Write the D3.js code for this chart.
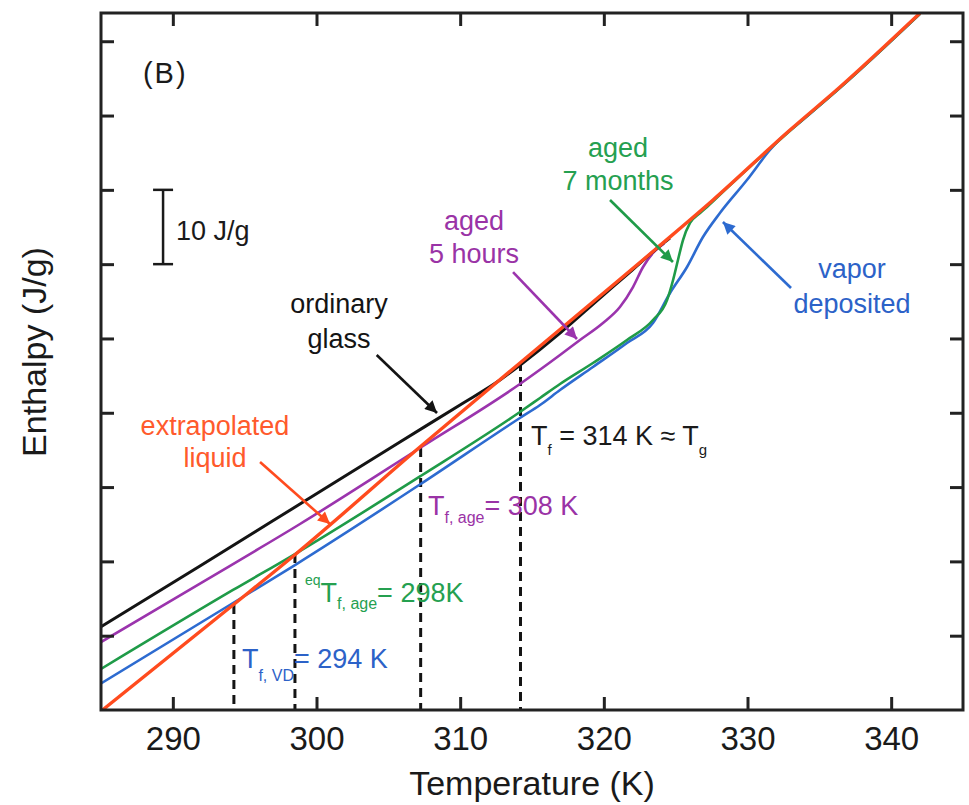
<!DOCTYPE html>
<html>
<head>
<meta charset="UTF-8">
<title>enthalpy vs temperature</title>
<script src="https://d3js.org/d3.v7.min.js"></script>
<style>
  body { margin: 0; background: #fff; }
  text { font-family: "Liberation Sans", Arial, Helvetica, sans-serif; }
</style>
</head>
<body>
<svg class="chart"></svg>
<script>

var width = 969, height = 805;
var margin = {top: 13, right: 6, bottom: 95, left: 101};

// axis ticks
var xTicks = [290, 300, 310, 320, 330, 340];
var yTicks = [10, 20, 30, 40, 50, 60, 70, 80, 90];

// curves: [temperature K, enthalpy J/g (arbitrary zero)]
var liquid = [[285.1, 0], [294.19, 14.13], [298.5, 20.9], [307.2, 35.39], [314.16, 46.7],
              [323.7, 62.17], [327.6, 68.63], [332.96, 78.05], [336.44, 83.84], [342.01, 93.8]];

var ordinary = [[285.0, 11.2], [291.89, 19.38], [298.85, 27.72], [305.81, 36.07], [309.99, 41.05],
                [312.77, 44.4], [314.16, 46.4], [316.95, 50.73], [319.73, 55.44], [321.82, 58.94],
                [323.56, 61.9], [324.6, 63.5]];

var aged5h = [[285.0, 9.15], [291.89, 17.02], [298.85, 25.03], [307.2, 35.26], [314.16, 43.87],
              [316.95, 47.77], [318.34, 49.79], [319.94, 52.08], [321.12, 54.23], [322.03, 56.92],
              [322.73, 59.62], [323.42, 61.5], [324.2, 62.8]];

var aged7mo = [[285.0, 5.52], [294.19, 16.15], [298.5, 20.99], [307.25, 31.49], [314.16, 40.1],
               [315.56, 41.99], [316.95, 43.87], [319.24, 46.7], [321.61, 49.79], [323.42, 52.48],
               [324.4, 55.17], [324.82, 57.87], [325.16, 60.56], [325.51, 63.25], [326.0, 65.54],
               [326.7, 66.88], [327.18, 67.69], [328.5, 70.1], [332.96, 77.95], [336.44, 83.74],
               [342.01, 93.7]];

var vaporDep = [[285.0, 3.57], [294.19, 14.4], [298.5, 19.51], [307.25, 30.41], [314.16, 39.3],
                [315.56, 41.04], [316.95, 43.06], [319.24, 46.16], [321.61, 49.39], [323.42, 52.08],
                [324.61, 56.12], [325.79, 59.62], [326.9, 63.65], [328.08, 66.88], [329.96, 71.32],
                [331.56, 75.36], [332.12, 76.57], [333.5, 78.85], [336.44, 83.74], [342.01, 93.7]];

// fictive temperatures (dashed drops) and where they meet the liquid line
var dropT = [294.25, 298.5, 307.25, 314.2];
var dropH = [14.13, 20.99, 35.26, 46.83];

var col = {
  black: "#141414",
  purple: "#9b34ad",
  green: "#1f9b48",
  blue: "#2d6bd0",
  orange: "#ff4b1e"
};

var x = d3.scaleLinear().domain([285, 345]).range([margin.left, width - margin.right]);
var y = d3.scaleLinear().domain([0, 93.8]).range([height - margin.bottom, margin.top]);

var chart = d3.select(".chart")
              .attr("width", width)
              .attr("height", height);

var defs = chart.append("defs");
defs.append("clipPath").attr("id", "plot")
    .append("rect")
    .attr("x", margin.left).attr("y", margin.top)
    .attr("width", width - margin.left - margin.right)
    .attr("height", height - margin.top - margin.bottom);

["black", "purple", "green", "blue", "orange"].forEach(function(c) {
  defs.append("marker")
      .attr("id", "arrow-" + c)
      .attr("viewBox", "0 0 10 10")
      .attr("refX", 10).attr("refY", 5)
      .attr("markerUnits", "userSpaceOnUse")
      .attr("markerWidth", 15).attr("markerHeight", 12)
      .attr("orient", "auto")
      .append("path")
      .attr("d", "M0,0 L10,5 L0,10 z")
      .attr("fill", col[c]);
});

// dashed fictive temperature lines
chart.append("g").selectAll("line")
     .data(dropT)
     .enter().append("line")
     .attr("x1", function(d) { return x(d); })
     .attr("x2", function(d) { return x(d); })
     .attr("y1", function(d, i) { return y(dropH[i]); })
     .attr("y2", y(0))
     .attr("stroke", col.black)
     .attr("stroke-width", 3)
     .attr("stroke-dasharray", "9,6");

// curves
var line = d3.line()
             .x(function(d) { return x(d[0]); })
             .y(function(d) { return y(d[1]); })
             .curve(d3.curveMonotoneX);

var series = [
  {data: vaporDep, color: col.blue, w: 2.6},
  {data: aged7mo, color: col.green, w: 2.6},
  {data: aged5h, color: col.purple, w: 2.6},
  {data: ordinary, color: col.black, w: 3},
  {data: liquid, color: col.orange, w: 3.4}
];

chart.append("g").attr("clip-path", "url(#plot)")
     .selectAll("path")
     .data(series)
     .enter().append("path")
     .attr("d", function(d) { return line(d.data); })
     .attr("fill", "none")
     .attr("stroke", function(d) { return d.color; })
     .attr("stroke-width", function(d) { return d.w; })
     .attr("stroke-linejoin", "round");

// axes: inward ticks on all four sides
function styleAxis(g) {
  g.select(".domain").remove();
  g.selectAll(".tick line").attr("stroke", "#222").attr("stroke-width", 3);
  g.selectAll(".tick text").attr("fill", "#1a1a1a")
   .style("font-size", "33px")
   .style("font-family", "'Liberation Sans', Arial, sans-serif");
}

chart.append("g")
     .attr("transform", "translate(0," + y(0) + ")")
     .call(d3.axisBottom(x).tickValues(xTicks).tickSizeInner(-13).tickSizeOuter(0).tickPadding(17))
     .call(styleAxis);

chart.append("g")
     .attr("transform", "translate(0," + margin.top + ")")
     .call(d3.axisTop(x).tickValues(xTicks).tickSizeInner(-13).tickSizeOuter(0).tickFormat(""))
     .call(styleAxis);

chart.append("g")
     .attr("transform", "translate(" + margin.left + ",0)")
     .call(d3.axisLeft(y).tickValues(yTicks).tickSizeInner(-13).tickSizeOuter(0).tickFormat(""))
     .call(styleAxis);

chart.append("g")
     .attr("transform", "translate(" + (width - margin.right) + ",0)")
     .call(d3.axisRight(y).tickValues(yTicks).tickSizeInner(-13).tickSizeOuter(0).tickFormat(""))
     .call(styleAxis);

chart.append("rect")
     .attr("x", margin.left).attr("y", margin.top)
     .attr("width", width - margin.left - margin.right)
     .attr("height", height - margin.top - margin.bottom)
     .attr("fill", "none")
     .attr("stroke", "#222")
     .attr("stroke-width", 3);

// axis titles
chart.append("text")
     .attr("x", (x.range()[0] + x.range()[1]) / 2)
     .attr("y", 795)
     .attr("text-anchor", "middle")
     .attr("fill", "#1a1a1a")
     .style("font-size", "34px")
     .text("Temperature (K)");

chart.append("text")
     .attr("transform", "translate(46,352) rotate(-90)")
     .attr("text-anchor", "middle")
     .attr("fill", "#1a1a1a")
     .style("font-size", "34px")
     .text("Enthalpy (J/g)");

// panel letter
chart.append("text")
     .attr("x", x(287.92)).attr("y", y(84.38))
     .attr("fill", "#1a1a1a")
     .style("font-size", "29px")
     .style("letter-spacing", "2px")
     .text("(B)");

// 10 J/g scale bar
var barT = 289.32;
var bar = chart.append("g").attr("stroke", "#1a1a1a").attr("stroke-width", 2.5);
bar.append("line").attr("x1", x(barT)).attr("x2", x(barT)).attr("y1", y(60)).attr("y2", y(70));
bar.append("line").attr("x1", x(barT) - 10).attr("x2", x(barT) + 10).attr("y1", y(60)).attr("y2", y(60));
bar.append("line").attr("x1", x(barT) - 10).attr("x2", x(barT) + 10).attr("y1", y(70)).attr("y2", y(70));
chart.append("text")
     .attr("x", x(290.22)).attr("y", y(63.25))
     .attr("fill", "#1a1a1a")
     .style("font-size", "27px")
     .text("10 J/g");

// curve labels
var notes = [
  {lines: ["ordinary", "glass"], T: 301.57, H: 53.43, lh: 35, color: col.black},
  {lines: ["aged", "5 hours"], T: 310.96, H: 64.59, lh: 33, color: "#9a33a6"},
  {lines: ["aged", "7 months"], T: 320.99, H: 74.42, lh: 33, color: "#25a050"},
  {lines: ["vapor", "deposited"], T: 337.27, H: 58.14, lh: 35, color: "#2c62c8"},
  {lines: ["extrapolated", "liquid"], T: 292.93, H: 37.01, lh: 32, color: "#ff5a2c"}
];

notes.forEach(function(n) {
  var t = chart.append("text")
               .attr("text-anchor", "middle")
               .attr("fill", n.color)
               .style("font-size", "27px");
  n.lines.forEach(function(s, i) {
    t.append("tspan")
     .attr("x", x(n.T))
     .attr("y", y(n.H) + i * n.lh)
     .text(s);
  });
});

// arrows from labels to curves
var arrows = [
  {from: [304.19, 47.77], to: [308.39, 39.97], c: "black"},
  {from: [313.68, 58.94], to: [318.13, 49.93], c: "purple"},
  {from: [320.43, 68.63], to: [324.81, 60.29], c: "green"},
  {from: [333.03, 56.79], to: [328.29, 65.67], c: "blue"},
  {from: [296.07, 33.37], to: [300.94, 25.03], c: "orange"}
];

chart.append("g").selectAll("line")
     .data(arrows)
     .enter().append("line")
     .attr("x1", function(d) { return x(d.from[0]); })
     .attr("y1", function(d) { return y(d.from[1]); })
     .attr("x2", function(d) { return x(d.to[0]); })
     .attr("y2", function(d) { return y(d.to[1]); })
     .attr("stroke", function(d) { return col[d.c]; })
     .attr("stroke-width", 2.6)
     .attr("marker-end", function(d) { return "url(#arrow-" + d.c + ")"; });

// fictive temperature labels with sub/superscripts
function subLabel(T, H, color, parts) {
  var t = chart.append("text")
               .attr("x", x(T)).attr("y", y(H))
               .attr("fill", color);
  parts.forEach(function(p) {
    t.append("tspan")
     .attr("dy", p[2])
     .style("font-size", p[1] + "px")
     .text(p[0]);
  });
}

subLabel(314.93, 35.66, "#1a1a1a",
         [["T", 27, 0], ["f", 15, 10], [" = 314 K \u2248 T", 27, -10], ["g", 15, 10]]);
subLabel(307.76, 26.24, "#9a33a6",
         [["T", 27, 0], ["f, age", 16, 8], ["= 308 K", 27, -8]]);
subLabel(299.2, 14.53, "#25a050",
         [["eq", 14, -17], ["T", 27, 17], ["f, age", 16, 7], ["= 298K", 27, -7]]);
subLabel(294.81, 5.65, "#2c62c8",
         [["T", 27, 0], ["f, VD", 16, 13], ["= 294 K", 27, -13]]);

</script>
</body>
</html>
